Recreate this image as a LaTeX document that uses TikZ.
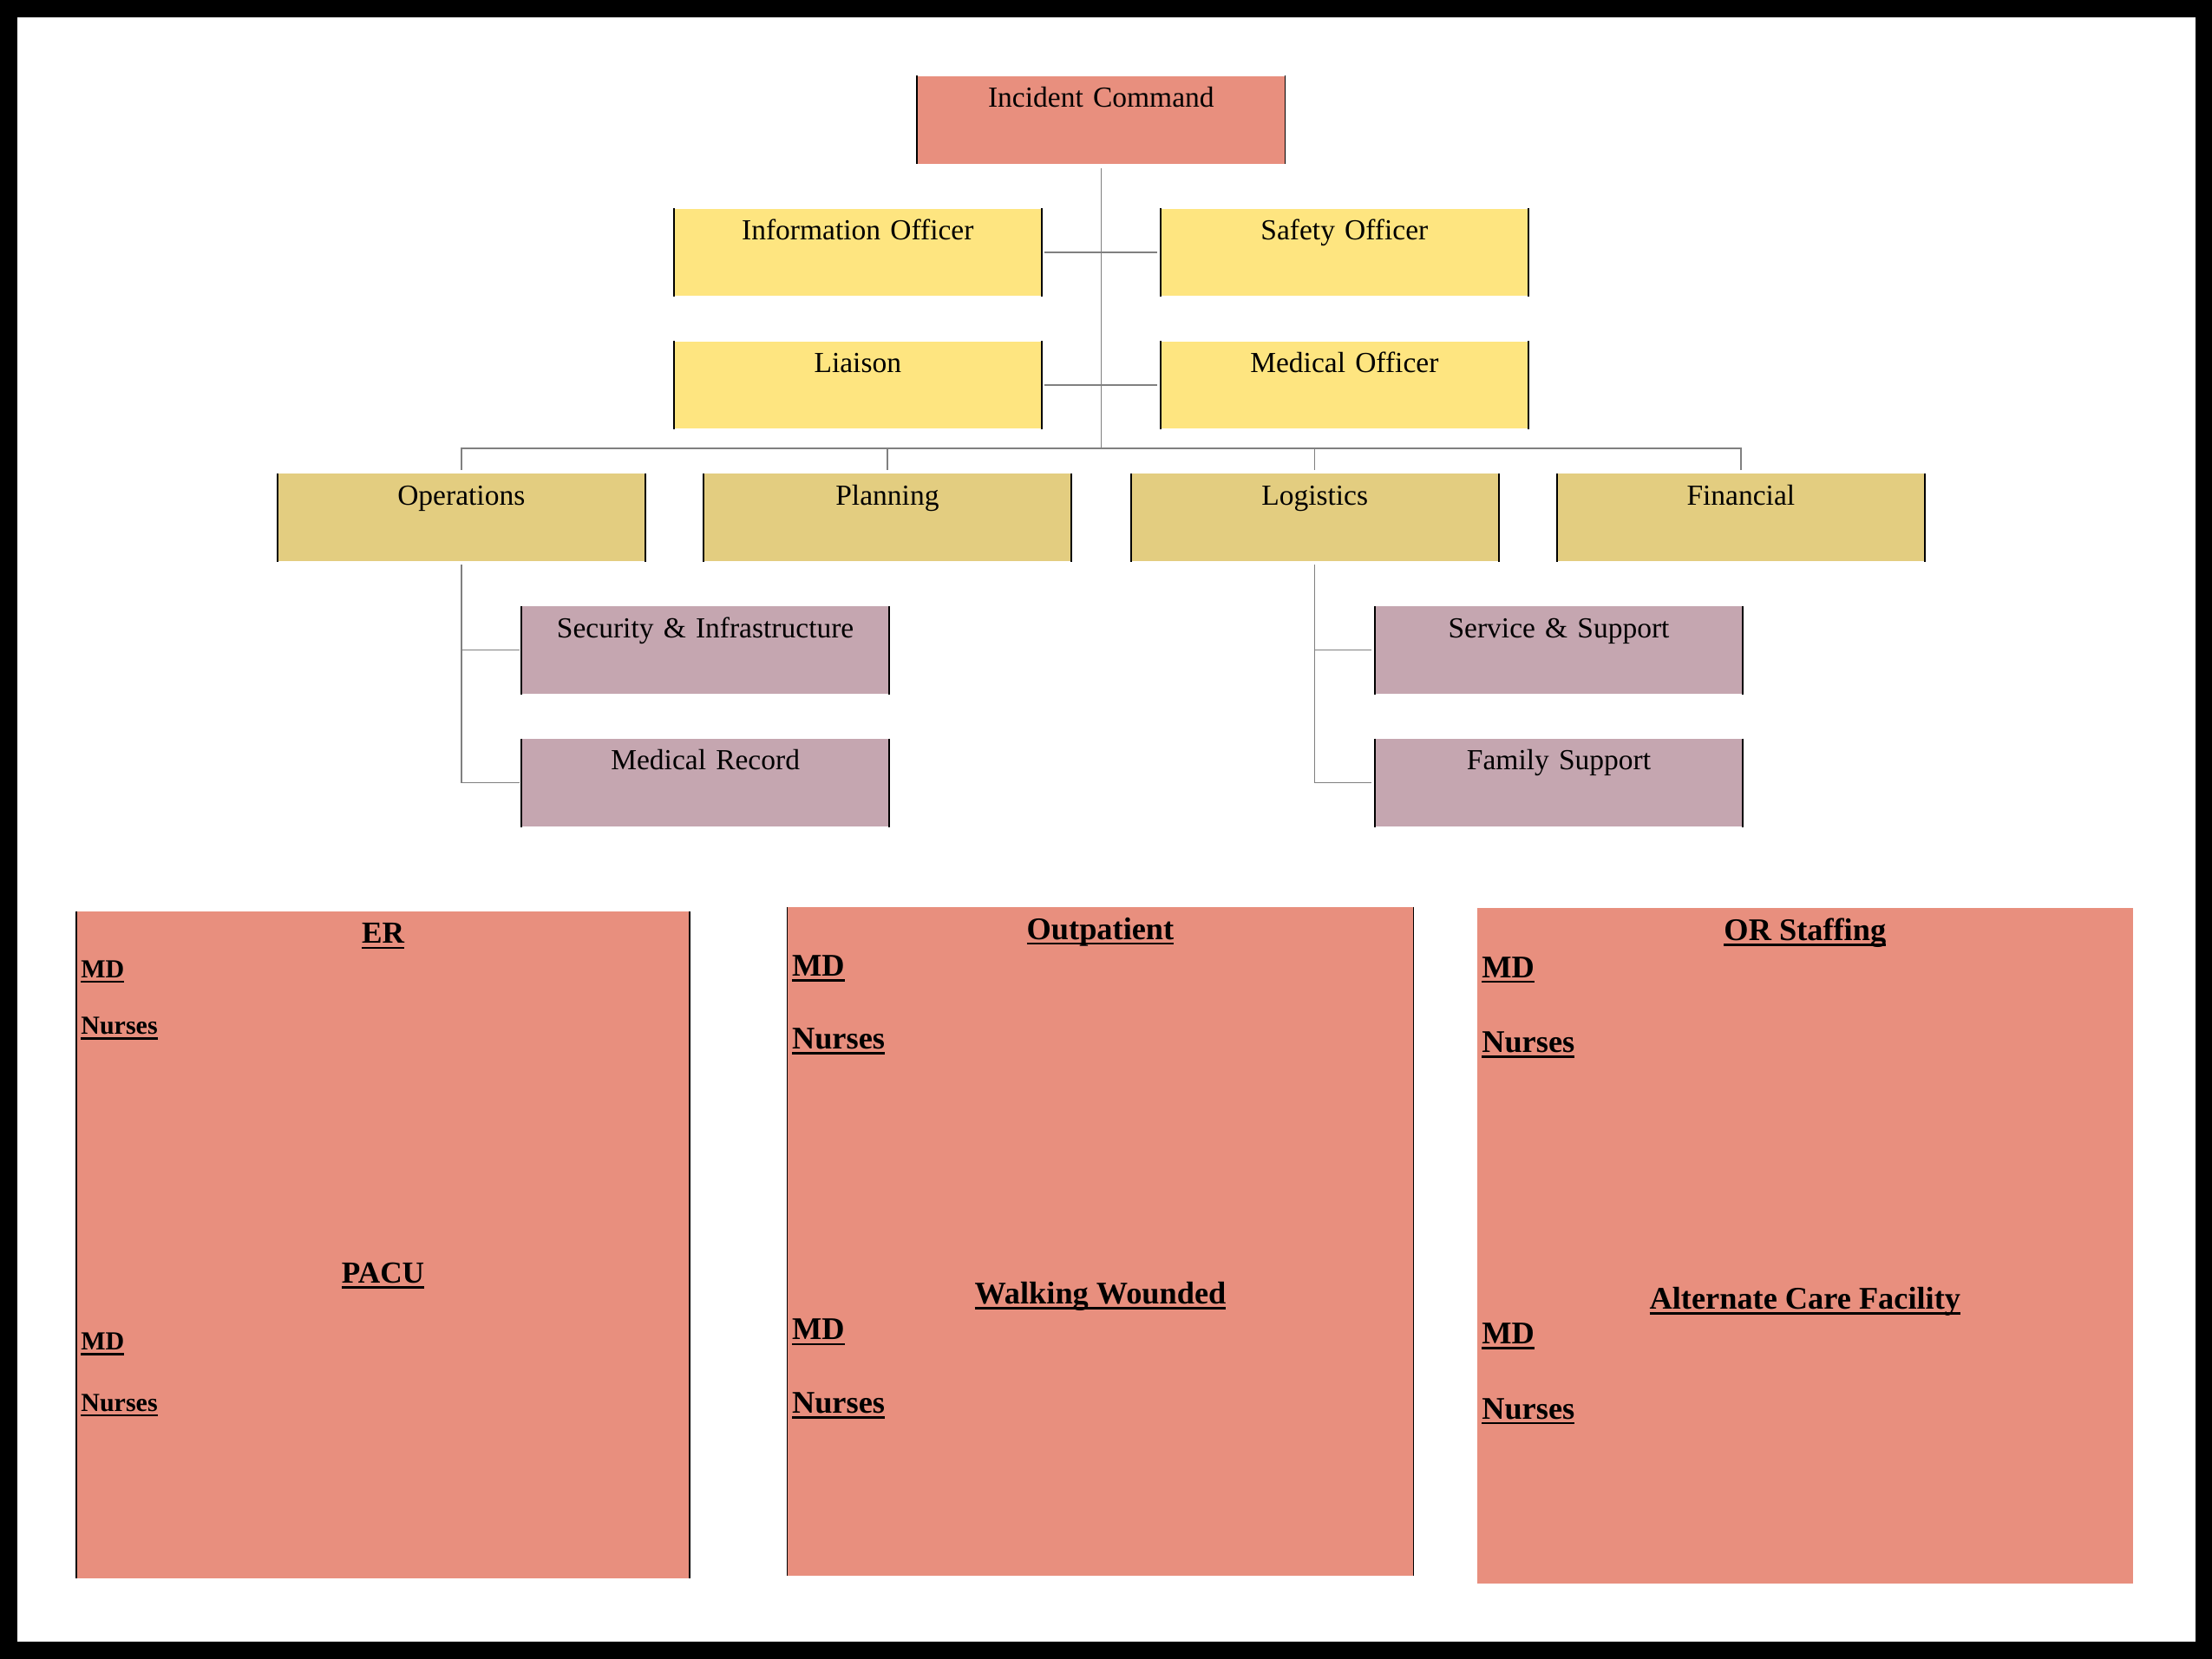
\documentclass[tikz,border=0pt]{standalone}
\usepackage{fontspec}
\setmainfont{Liberation Serif}

\newsavebox{\undlbox}
\newcommand{\undl}[1]{\sbox{\undlbox}{#1}\rlap{\rule[-1.8pt]{\wd\undlbox}{0.8pt}}\usebox{\undlbox}}

\definecolor{cmdred}{HTML}{E88F7E}
\definecolor{staffyellow}{HTML}{FEE580}
\definecolor{sectiontan}{HTML}{E3CD80}
\definecolor{unitmauve}{HTML}{C5A6B0}
\definecolor{linkgray}{HTML}{808080}

\tikzset{
  card/.style={fill=#1, inner sep=0pt, text width=4.212cm, align=center,
    text height=0.356cm, text depth=0.648cm,
    font=\fontsize{9.5}{11}\selectfont,
    append after command={(\tikzlastnode.north west) edge[black, line width=0.5pt] (\tikzlastnode.south west)
      (\tikzlastnode.north east) edge[black, line width=0.5pt] (\tikzlastnode.south east)}},
  link/.style={draw=linkgray, line width=0.4pt},
  head/.style={anchor=base, inner sep=0pt, font=\bfseries\fontsize{#1}{12}\selectfont},
  item/.style={anchor=base west, inner sep=0pt, font=\bfseries\fontsize{#1}{12}\selectfont},
}

\begin{document}
\begin{tikzpicture}[x=0.0162cm, y=-0.0162cm]
  % frame
  \fill[black] (0,0) rectangle (1568,1176);
  \fill[white] (12,12) rectangle (1556,1164);

  % command and staff
  \node[card=cmdred] (ic) at (780.5,85) {Incident Command};
  \node[card=staffyellow] (info) at (608,179) {Information Officer};
  \node[card=staffyellow] (safe) at (953,179) {Safety Officer};
  \node[card=staffyellow] (liai) at (608,273) {Liaison};
  \node[card=staffyellow] (medo) at (953,273) {Medical Officer};

  % sections
  \node[card=sectiontan] (ops) at (327,367) {Operations};
  \node[card=sectiontan] (plan) at (629,367) {Planning};
  \node[card=sectiontan] (log) at (932,367) {Logistics};
  \node[card=sectiontan] (fin) at (1234,367) {Financial};

  % units
  \node[card=unitmauve] (sec) at (500,461) {Security \& Infrastructure};
  \node[card=unitmauve] (rec) at (500,555) {Medical Record};
  \node[card=unitmauve] (svc) at (1105,461) {Service \& Support};
  \node[card=unitmauve] (fam) at (1105,555) {Family Support};

  % connectors
  \coordinate (bus) at (780.5,318);
  \draw[link, shorten <=1.4pt] (ic.south) -- (bus);
  \draw[link, shorten <=1pt, shorten >=1pt] (info.east) -- (safe.west);
  \draw[link, shorten <=1pt, shorten >=1pt] (liai.east) -- (medo.west);
  \foreach \n in {ops,plan,log,fin}
    \draw[link, shorten >=1pt] (bus) -| (\n.north);
  \foreach \n in {sec,rec}
    \draw[link, shorten <=1pt, shorten >=0.5pt] (ops.south) |- (\n.west);
  \foreach \n in {svc,fam}
    \draw[link, shorten <=1pt, shorten >=1pt] (log.south) |- (\n.west);

  % staffing areas
  \fill[cmdred] (54,646) rectangle (489,1119);
  \draw[line width=0.5pt] (54,646) -- (54,1119) (489,646) -- (489,1119);
  \fill[cmdred] (558,643) rectangle (1002,1117);
  \draw[line width=0.5pt] (558,643) -- (558,1117) (1002,643) -- (1002,1117);
  \fill[cmdred] (1047,644) rectangle (1512,1123);

  \node[head=10] (er) at (271.5,669) {\undl{ER}};
  \node[item=8.5] (ermd) at (57,693) {\undl{MD}};
  \node[item=8.5] (ernu) at (57,733.5) {\undl{Nurses}};
  \node[head=10] (pacu) at (271.5,910) {\undl{PACU}};
  \node[item=8.5] (pamd) at (57,957) {\undl{MD}};
  \node[item=8.5] (panu) at (57,1000.5) {\undl{Nurses}};

  \node[head=10.3] (outp) at (780,666) {\undl{Outpatient}};
  \node[item=10.3] (outmd) at (561,692) {\undl{MD}};
  \node[item=10.3] (outnu) at (561,744) {\undl{Nurses}};
  \node[head=10.3] (walk) at (780,924.5) {\undl{Walking Wounded}};
  \node[item=10.3] (wamd) at (561,950) {\undl{MD}};
  \node[item=10.3] (wanu) at (561,1002) {\undl{Nurses}};

  \node[head=10.3] (ors) at (1279.5,667) {\undl{OR Staffing}};
  \node[item=10.3] (ormd) at (1050,693) {\undl{MD}};
  \node[item=10.3] (ornu) at (1050,746) {\undl{Nurses}};
  \node[head=10.3] (acf) at (1279.5,928) {\undl{Alternate Care Facility}};
  \node[item=10.3] (acmd) at (1050,953) {\undl{MD}};
  \node[item=10.3] (acnu) at (1050,1006) {\undl{Nurses}};
\end{tikzpicture}
\end{document}
